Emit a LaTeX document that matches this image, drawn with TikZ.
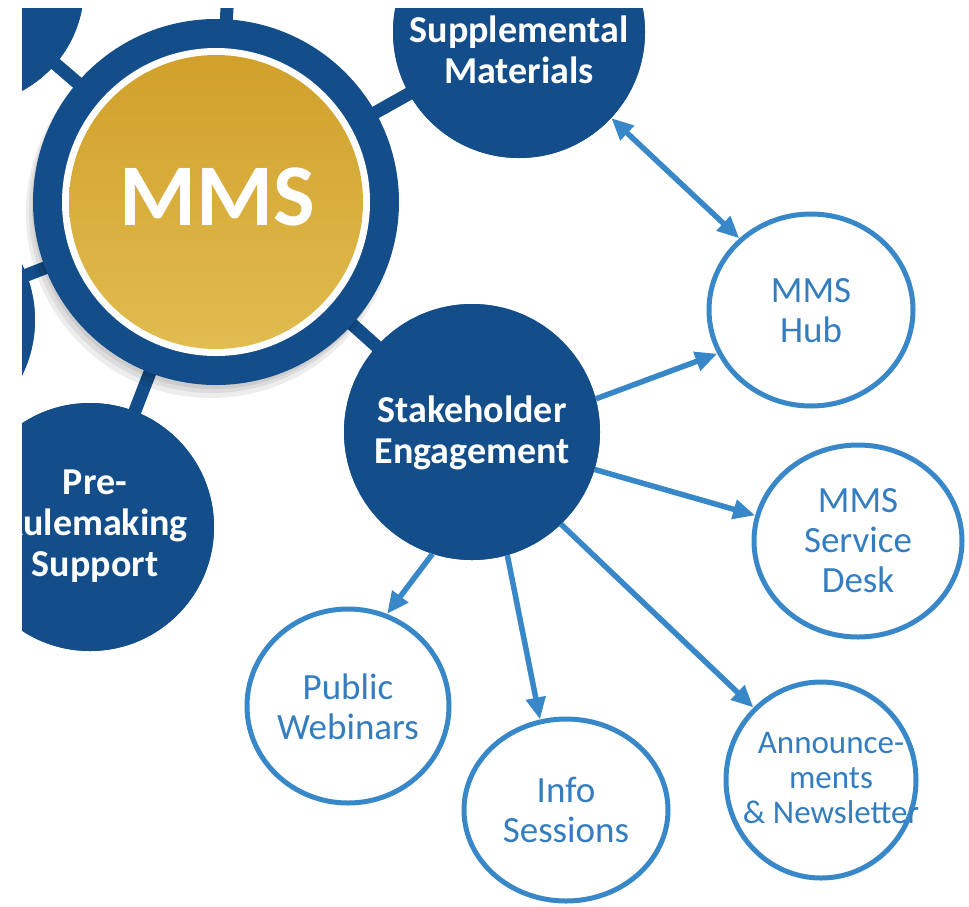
\documentclass[tikz,border=0pt]{standalone}
\usepackage{fontspec}
\setmainfont{Carlito}
\usetikzlibrary{arrows.meta,shapes.geometric}
\definecolor{dblue}{RGB}{20,78,138}
\definecolor{lblue}{RGB}{56,135,200}
\definecolor{ltext}{RGB}{52,125,192}
\definecolor{goldA}{RGB}{208,160,42}
\definecolor{goldB}{RGB}{225,188,80}
\tikzset{
  darkc/.style={circle, fill=dblue, inner sep=0pt, minimum size=#1},
  lightc/.style={ellipse, draw=lblue, line width=5pt, fill=white, inner sep=0pt},
  darktxt/.style={text=white, font=\bfseries\fontsize{38}{41}\selectfont, align=center, inner sep=0pt},
  lighttxt/.style={text=ltext, font=\fontsize{37}{40}\selectfont, align=center, inner sep=0pt},
  spoke/.style={draw=dblue, line width=13pt},
  arr/.style={draw=lblue, line width=5.5pt, -{Triangle[length=22pt,width=19pt]}},
  arrtwo/.style={draw=lblue, line width=5.5pt, {Triangle[length=22pt,width=19pt]}-{Triangle[length=22pt,width=19pt]}},
  shadowc/.style={circle, fill=black, opacity=0.07, inner sep=0pt, minimum size=#1},
}
\begin{document}
\begin{tikzpicture}[x=1pt,y=-1pt]
\useasboundingbox (0,0) rectangle (969,906);
\clip (22,8) rectangle (969,906);
\coordinate (topsat) at (236,-150);
\coordinate (c) at (216,202);
% dark satellites (positions)
\node[darkc=236pt] (tl) at (-34,-13) {};
\node[darkc=250pt] (lft) at (-90,320) {};
\node[darkc=248pt] (pre) at (90,527) {};
\node[darkc=252pt] (supp) at (519,32) {};
\node[darkc=256pt] (se) at (472,432) {};
% spokes
\path[spoke] (c) -- (topsat);
\path[spoke] (c) -- (tl.center);
\path[spoke] (c) -- (lft.center);
\path[spoke] (c) -- (pre.center);
\path[spoke] (c) -- (supp.center);
\path[spoke] (c) -- (se.center);
% soft shadow of the ring
\node[shadowc=370pt] (sh1) at (211,213) {};
\node[shadowc=366pt] (sh2) at (212,210) {};
\node[shadowc=364pt] (sh3) at (214,207) {};
% satellites over spokes
\node[darkc=236pt] at (tl) {};
\node[darkc=250pt] at (lft) {};
\node[darkc=248pt] at (pre) {};
\node[darkc=252pt] at (supp) {};
\node[darkc=256pt] at (se) {};
% central ring
\node[circle, fill=dblue, minimum size=366pt, inner sep=0pt] (ring) at (c) {};
\node[circle, fill=white, minimum size=308pt, inner sep=0pt] (gap) at (c) {};
\node[circle, top color=goldA, bottom color=goldB, minimum size=294pt, inner sep=0pt] (gold) at (c) {};
\node[text=white, font=\bfseries\fontsize{88}{88}\selectfont, inner sep=0pt] (mms) at (217,197) {MMS};
% dark labels
\node[darktxt] (supptxt) at (519,50) {Supplemental\\Materials};
\node[darktxt] (setxt) at (472,433) {Stakeholder\\Engagement};
\node[darktxt] (pretxt) at (95,526) {Pre-\\Rulemaking\\Support};
% light circles
\node[lightc, minimum width=204pt, minimum height=192pt] (hub) at (811,310) {};
\node[lightc, minimum width=208pt, minimum height=192pt] (desk) at (858,541) {};
\node[lightc, minimum width=202pt, minimum height=194pt] (web) at (348,706) {};
\node[lightc, minimum width=204pt, minimum height=182pt] (info) at (566,810) {};
\node[lightc, minimum width=190pt, minimum height=196pt] (ann) at (821,780) {};
\node[lighttxt] (hubtxt) at (811,311) {MMS\\Hub};
\node[lighttxt] (desktxt) at (858,541) {MMS\\Service\\Desk};
\node[lighttxt] (webtxt) at (348,707) {Public\\Webinars};
\node[lighttxt] (infotxt) at (566,810) {Info\\Sessions};
\node[lighttxt, font=\fontsize{33}{35}\selectfont] (anntxt) at (831,778) {Announce-\\ments\\\& Newsletter};
% arrows
\draw[arrtwo] (supp.-43.7) -- (hub.135);
\draw[arr] (se.15.8) -- (hub.205);
\draw[arr] (se.-17.6) -- (desk.166.6);
\draw[arr] (se.252) -- (web.67.6);
\draw[arr] (se.286) -- (info.106);
\draw[arr] (se.314) -- (ann.133);
\end{tikzpicture}
\end{document}
